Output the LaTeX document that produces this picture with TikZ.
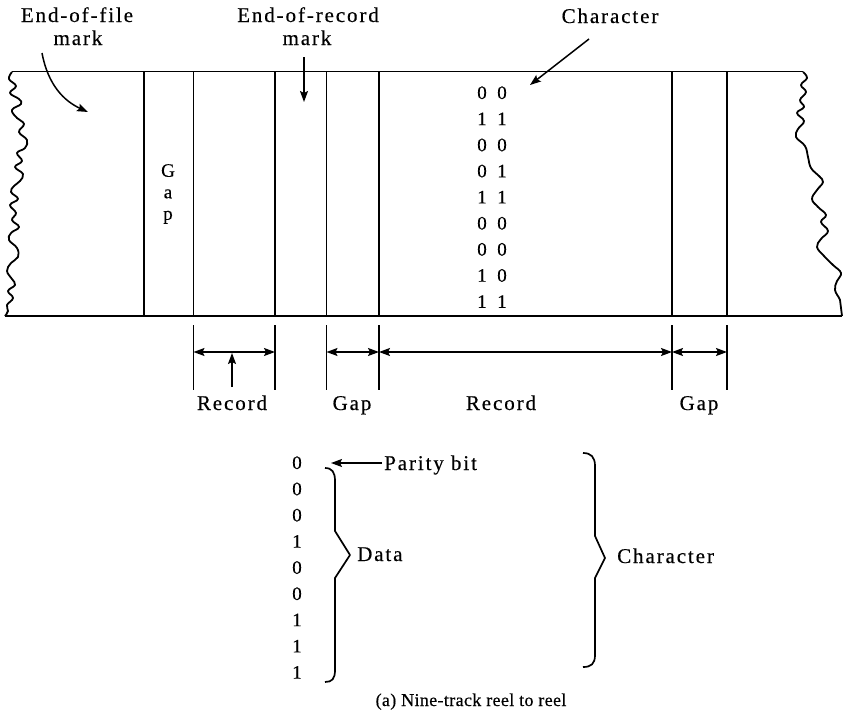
\documentclass[tikz,border=0pt]{standalone}
\usepackage{fontspec}
\setmainfont{Liberation Serif}[FakeBold=0.4]
\newfontfamily\labfont[LetterSpace=9,FakeBold=0.4]{Liberation Serif}
\newfontfamily\capfont[LetterSpace=2,FakeBold=0.4]{Liberation Serif}
\usetikzlibrary{arrows.meta}
\begin{document}
\begin{tikzpicture}[x=1pt,y=-1pt,
  lab/.style={font=\fontsize{21}{25}\labfont, inner sep=0pt, anchor=base},
  gaplab/.style={font=\fontsize{19}{21.5}\selectfont, inner sep=0pt, align=center},
  dig/.style={font=\fontsize{19}{20}\selectfont, inner sep=0pt, anchor=base},
  tape/.style={line width=1.8pt, line join=round},
  bar/.style={line width=1.5pt},
  arr/.style={line width=1.5pt, -{Stealth[length=11pt,width=8pt,inset=2pt]}},
  dim/.style={line width=1.5pt, {Stealth[length=11pt,width=8pt,inset=2pt]}-{Stealth[length=11pt,width=8pt,inset=2pt]}},
  brc/.style={line width=1.7pt, line join=round},
]
\useasboundingbox (0,0) rectangle (843,715);

% ---------------- tape ----------------
\draw[tape] (12,71.5) -- (803,71.5);
\draw[tape] (5,316) -- (842,316);
\draw[tape] plot[smooth, tension=0.7] coordinates {(12,72) (9,79) (16,86) (10,93) (19,99) (21,104) (12,110) (17,118) (24,124) (19,132) (27,140) (25,148) (17,153) (22,161) (15,167) (23,174) (20,181) (14,186) (11,192) (18,199) (10,205) (16,213) (12,220) (19,227) (11,233) (9,240) (17,248) (18,257) (11,263) (7,271) (12,279) (15,285) (8,291) (13,298) (7,305) (8,311) (5,316)};
\draw[tape] plot[smooth, tension=0.7] coordinates {(803,72) (807,78) (801,85) (806,92) (800,100) (804,107) (797,113) (804,121) (798,129) (796,137) (805,146) (808,157) (811,168) (819,176) (823,182) (817,190) (812,199) (818,207) (826,215) (821,222) (828,231) (821,239) (817,247) (824,256) (833,265) (841,273) (837,281) (835,290) (840,300) (841,308) (842,316)};

\foreach \x in {144,193.5,275,326.5,379,672,727}
  \draw[bar] (\x,71.5) -- (\x,316);

% gap text in tape
\node[gaplab] (gaptxt) at (168,194) {G\\a\\p};

% character bits
\foreach \a/\b [count=\k from 0] in {0/0,1/1,0/0,0/1,1/1,0/0,0/0,1/0,1/1}{
  \node[dig] (cl\k) at (482,{99+26.1*\k}) {\a};
  \node[dig] (cr\k) at (502,{99+26.1*\k}) {\b};
}

% ---------------- top labels ----------------
\node[lab] (eof1) at (77,22) {End-of-file};
\node[lab] (eof2) at (78,45) {mark};
\node[lab] (eor1) at (308,22) {End-of-record};
\node[lab] (eor2) at (307,45) {mark};
\node[lab] (chr) at (610,23) {Character};

\coordinate (eofS) at (42,53);
\coordinate (eofE) at (88,112);
\draw[arr] (eofS) .. controls (48,85) and (64,101) .. (eofE);
\coordinate (eorS) at (304,57);
\coordinate (eorE) at (304,102);
\draw[arr] (eorS) -- (eorE);
\coordinate (chrS) at (589,39);
\coordinate (chrE) at (530,85);
\draw[arr] (chrS) -- (chrE);

% ---------------- dimensions ----------------
\foreach \x/\n in {193.5/t1,275/t2,326.5/t3,379/t4,672/t5,727/t6}{
  \coordinate (\n a) at (\x,325);
  \coordinate (\n b) at (\x,390);
  \coordinate (\n) at (\x,352);
  \draw[bar] (\n a) -- (\n b);
}
\draw[dim] (t1) -- (t2);
\draw[dim] (t3) -- (t4);
\draw[dim] (t4) -- (t5);
\draw[dim] (t5) -- (t6);
\coordinate (upS) at (232,387);
\coordinate (upE) at (232,353);
\draw[arr] (upS) -- (upE);

\node[lab] (rec1) at (232,410) {Record};
\node[lab] (gap1) at (352,410) {Gap};
\node[lab] (rec2) at (501,410) {Record};
\node[lab] (gap2) at (699,410) {Gap};

% ---------------- character detail ----------------
\foreach \v [count=\k from 0] in {0,0,0,1,0,0,1,1,1}
  \node[dig] (b\k) at (297,{469+26.2*\k}) {\v};

\coordinate (parS) at (382,463);
\coordinate (parE) at (331,463);
\draw[arr] (parS) -- (parE);
\node[lab, anchor=base west] (par) at (384,470) {Parity bit};

% Data brace
\draw[brc] (325,468) .. controls (332,468) and (335,472) .. (335,481) -- (335,531) -- (350,555) -- (335,578) -- (335,670) .. controls (335,679) and (332,682) .. (325,682);
\node[lab, anchor=base west] (data) at (357,561) {Data};

% Character brace
\draw[brc] (583,453) .. controls (591,453) and (595,457) .. (595,466) -- (595,536) -- (605,558) -- (595,578) -- (595,655) .. controls (595,664) and (591,667) .. (583,667);
\node[lab, anchor=base west] (chr2) at (617,563) {Character};

\node[font=\fontsize{18}{22}\capfont, inner sep=0pt, anchor=base] (cap) at (471,706) {(a) Nine-track reel to reel};
\end{tikzpicture}
\end{document}
